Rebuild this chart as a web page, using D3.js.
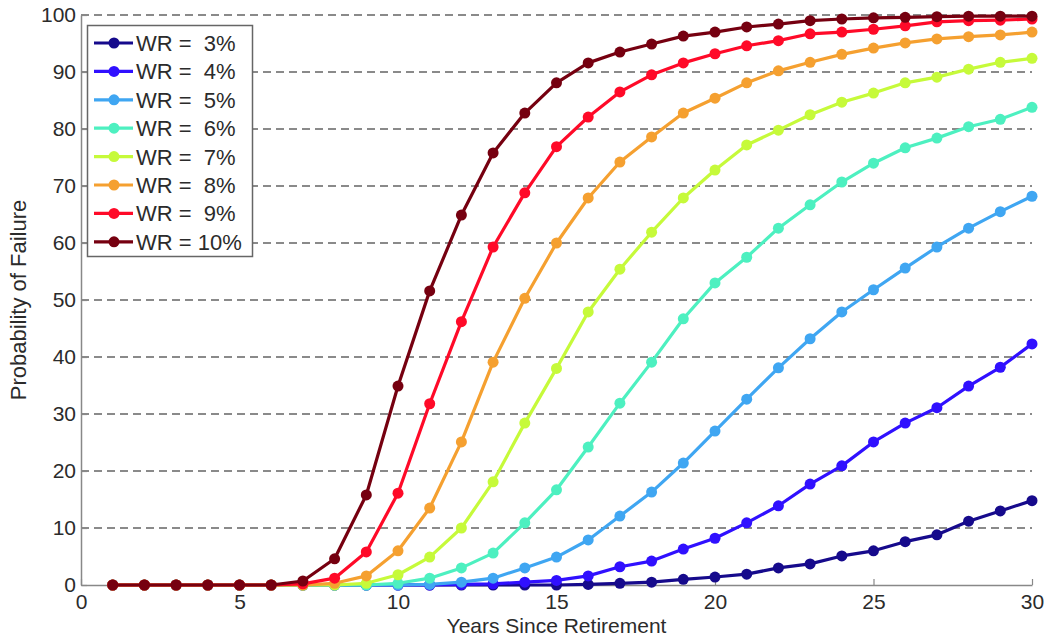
<!DOCTYPE html>
<html>
<head>
<meta charset="utf-8">
<script src="https://cdn.jsdelivr.net/npm/d3@7"></script>
<style>
  body { margin: 0; background: #fff; }
  text { font-family: "Liberation Sans", Arial, sans-serif; fill: #2b2b2b; }
</style>
</head>
<body>
<div class="container"></div>
<script>
const years = d3.range(1, 31);

const labels = ['WR =  3%', 'WR =  4%', 'WR =  5%', 'WR =  6%', 'WR =  7%', 'WR =  8%', 'WR =  9%', 'WR = 10%'];
const colors = ['#160a8c', '#3010ff', '#3fa6f2', '#4df0c0', '#c6fa3a', '#f5a030', '#ff0a28', '#760010'];

const wr3 = [0, 0, 0, 0, 0, 0, 0, 0, 0, 0, 0, 0, 0, 0, 0, 0.1, 0.3, 0.5, 1.0, 1.4, 1.9, 3.0, 3.7, 5.1, 6.0, 7.6, 8.8, 11.2, 13.0, 14.8];
const wr4 = [0, 0, 0, 0, 0, 0, 0, 0, 0, 0, 0, 0.1, 0.2, 0.5, 0.8, 1.6, 3.2, 4.2, 6.3, 8.2, 10.9, 13.9, 17.7, 20.9, 25.1, 28.4, 31.1, 34.9, 38.2, 42.3];
const wr5 = [0, 0, 0, 0, 0, 0, 0, 0, 0, 0, 0.1, 0.5, 1.2, 3.0, 4.9, 7.9, 12.1, 16.3, 21.4, 27.0, 32.6, 38.1, 43.2, 47.9, 51.8, 55.6, 59.3, 62.6, 65.5, 68.2];
const wr6 = [0, 0, 0, 0, 0, 0, 0, 0, 0, 0.3, 1.2, 3.0, 5.6, 10.9, 16.7, 24.2, 31.9, 39.1, 46.7, 53.0, 57.5, 62.6, 66.7, 70.7, 74.0, 76.7, 78.4, 80.4, 81.7, 83.8];
const wr7 = [0, 0, 0, 0, 0, 0, 0, 0, 0.3, 1.8, 4.9, 10.0, 18.1, 28.4, 38.0, 47.9, 55.4, 61.9, 67.9, 72.8, 77.2, 79.8, 82.5, 84.7, 86.3, 88.1, 89.1, 90.5, 91.7, 92.4];
const wr8 = [0, 0, 0, 0, 0, 0, 0, 0.3, 1.6, 6.0, 13.5, 25.1, 39.1, 50.3, 60.0, 67.9, 74.2, 78.6, 82.8, 85.4, 88.1, 90.2, 91.7, 93.1, 94.2, 95.1, 95.8, 96.2, 96.5, 97.0];
const wr9 = [0, 0, 0, 0, 0, 0, 0.2, 1.2, 5.8, 16.1, 31.8, 46.2, 59.3, 68.8, 76.9, 82.1, 86.5, 89.5, 91.6, 93.2, 94.6, 95.5, 96.7, 97.0, 97.5, 98.1, 98.8, 99.0, 99.1, 99.3];
const wr10 = [0, 0, 0, 0, 0, 0, 0.7, 4.6, 15.8, 34.9, 51.6, 64.9, 75.8, 82.8, 88.1, 91.6, 93.5, 94.9, 96.3, 97.0, 97.9, 98.4, 99.0, 99.3, 99.5, 99.6, 99.7, 99.8, 99.8, 99.8];

const seriesValues = [wr3, wr4, wr5, wr6, wr7, wr8, wr9, wr10];
const xTicks = [0, 5, 10, 15, 20, 25, 30];
const yTicks = [0, 10, 20, 30, 40, 50, 60, 70, 80, 90, 100];

const w = 1047;
const h = 638;

const margin = {
    top: 15,
    right: 15,
    bottom: 53,
    left: 81
};

const svg = d3.select('.container')
    .append('svg')
    .attr('width', w)
    .attr('height', h);

const x = d3.scaleLinear([0, 30], [margin.left, w - margin.right]);
const y = d3.scaleLinear([0, 100], [h - margin.bottom, margin.top]);

// dashed grid lines
svg.append('g')
    .selectAll('line')
    .data(yTicks.filter(d => d > 0))
    .join('line')
    .attr('x1', x(0))
    .attr('x2', x(30))
    .attr('y1', d => y(d))
    .attr('y2', d => y(d))
    .attr('stroke', '#8a8a8a')
    .attr('stroke-width', 2)
    .attr('stroke-dasharray', '8,5');

// axes, ticks inside like matlab
const xAxis = svg.append('g')
    .attr('transform', `translate(0,${y(0)})`)
    .call(d3.axisBottom(x).tickValues(xTicks).tickSizeInner(-6).tickSizeOuter(0).tickPadding(9));

const yAxis = svg.append('g')
    .attr('transform', `translate(${x(0)},0)`)
    .call(d3.axisLeft(y).tickValues(yTicks).tickSizeInner(-6).tickSizeOuter(0).tickPadding(5));

[xAxis, yAxis].forEach(a => {
    a.select('.domain').attr('stroke', '#888').attr('stroke-width', 1.5);
    a.selectAll('.tick line').attr('stroke', '#888').attr('stroke-width', 1.2);
    a.selectAll('.tick text')
        .style('font-size', '21px')
        .style('font-family', '"Liberation Sans", Arial, sans-serif')
        .attr('fill', '#2b2b2b');
});

// series lines
const line = d3.line()
    .x((d, i) => x(years[i]))
    .y(d => y(d));

const series = svg.append('g')
    .selectAll('g')
    .data(seriesValues)
    .join('g');

series.append('path')
    .attr('d', d => line(d))
    .attr('fill', 'none')
    .attr('stroke', (d, i) => colors[i])
    .attr('stroke-width', 3.2)
    .attr('stroke-linejoin', 'round');

series.each(function (vals, i) {
    d3.select(this).selectAll('circle')
        .data(vals)
        .join('circle')
        .attr('cx', (d, j) => x(years[j]))
        .attr('cy', d => y(d))
        .attr('r', 5.5)
        .attr('fill', colors[i]);
});

// axis titles
svg.append('text')
    .attr('x', (x(0) + x(30)) / 2)
    .attr('y', 633)
    .attr('text-anchor', 'middle')
    .style('font-size', '21px')
    .text('Years Since Retirement');

svg.append('text')
    .attr('transform', `translate(26,${y(50)}) rotate(-90)`)
    .attr('text-anchor', 'middle')
    .style('font-size', '22px')
    .text('Probability of Failure');

// legend
const legend = svg.append('g');

legend.append('rect')
    .attr('x', 87.5)
    .attr('y', 25.5)
    .attr('width', 165)
    .attr('height', 231)
    .attr('fill', '#fff')
    .attr('stroke', '#666')
    .attr('stroke-width', 1.5);

const item = legend.selectAll('g')
    .data(labels)
    .join('g')
    .attr('transform', (d, i) => `translate(0,${43 + i * 28.4})`);

item.append('line')
    .attr('x1', 94)
    .attr('x2', 133)
    .attr('stroke', (d, i) => colors[i])
    .attr('stroke-width', 3.2);

item.append('circle')
    .attr('cx', 114)
    .attr('r', 5.5)
    .attr('fill', (d, i) => colors[i]);

item.append('text')
    .attr('x', 136)
    .attr('dy', '0.36em')
    .style('font-size', '22px')
    .style('white-space', 'pre')
    .text(d => d);
</script>
</body>
</html>
